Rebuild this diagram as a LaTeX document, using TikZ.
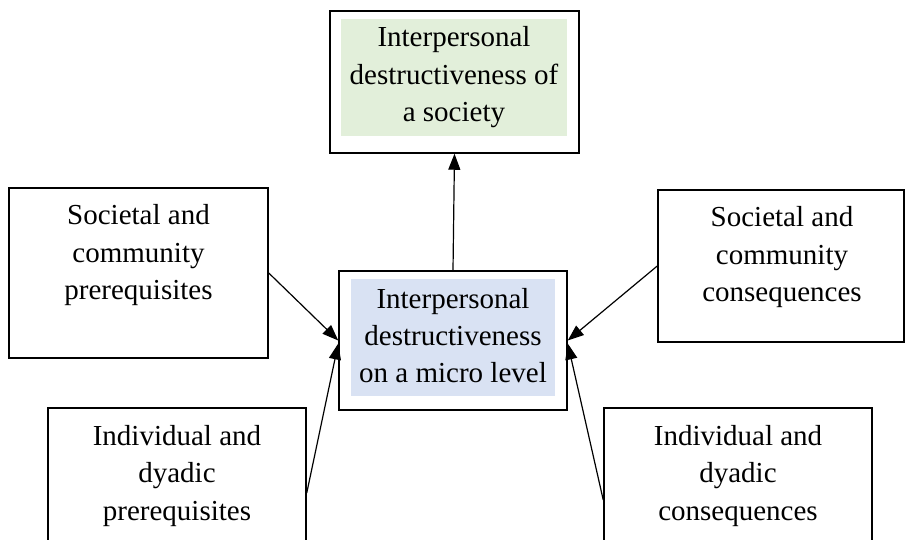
\documentclass[tikz,border=0pt]{standalone}
\usepackage{fontspec}
\setmainfont{Liberation Serif}
\usetikzlibrary{arrows.meta}
\definecolor{fillgreen}{HTML}{E2EFDA}
\definecolor{fillblue}{HTML}{D9E2F3}
\begin{document}
\begin{tikzpicture}[x=1pt,y=-1pt,
  box/.style={draw=black, line width=1.5pt, inner sep=0pt, rectangle},
  shade/.style={inner sep=0pt, rectangle, draw=none},
  label/.style={align=center, anchor=base, inner sep=0pt, font=\fontsize{29}{37.5}\selectfont},
  arr/.style={line width=1.2pt, -{Triangle[length=16pt,width=12pt]}}]
\useasboundingbox (0,0) rectangle (906,540);
\clip (0,0) rectangle (906,540);
\fill[white] (0,0) rectangle (906,540);
% boxes
\node[box, minimum width=249pt, minimum height=142pt] (t) at (454.5,82) {};
\node[shade, fill=fillgreen, minimum width=226pt, minimum height=117pt] (tf) at (454,77.5) {};
\node[box, minimum width=228pt, minimum height=139pt] (c) at (453,340.5) {};
\node[shade, fill=fillblue, minimum width=204pt, minimum height=117pt] (cf) at (453,337.5) {};
\node[box, minimum width=259pt, minimum height=170pt] (lt) at (138.5,273) {};
\node[box, minimum width=246pt, minimum height=152pt] (rt) at (781,266) {};
\node[box, minimum width=258pt, minimum height=170pt] (lb) at (177,493) {};
\node[box, minimum width=268pt, minimum height=184pt] (rb) at (738,500) {};
% texts (anchor base = baseline of last line)
\node[label] (tt) at (454,122) {Interpersonal\\destructiveness of\\a society};
\node[label] (ct) at (453,383) {Interpersonal\\destructiveness\\on a micro level};
\node[label] (ltt) at (138.5,300) {Societal and\\community\\prerequisites};
\node[label] (rtt) at (782,302) {Societal and\\community\\consequences};
\node[label] (lbt) at (177,520) {Individual and\\dyadic\\prerequisites};
\node[label] (rbt) at (738,520) {Individual and\\dyadic\\consequences};
% connectors
\draw[arr] (c.north) -- (t.south);
\draw[arr] (lt.east) -- (c.west);
\draw[arr] (rt.west) -- (c.east);
\draw[arr] (lb.east) -- ([yshift=-3pt]c.west);
\draw[arr] (rb.west) -- ([yshift=-3pt]c.east);
\end{tikzpicture}
\end{document}
